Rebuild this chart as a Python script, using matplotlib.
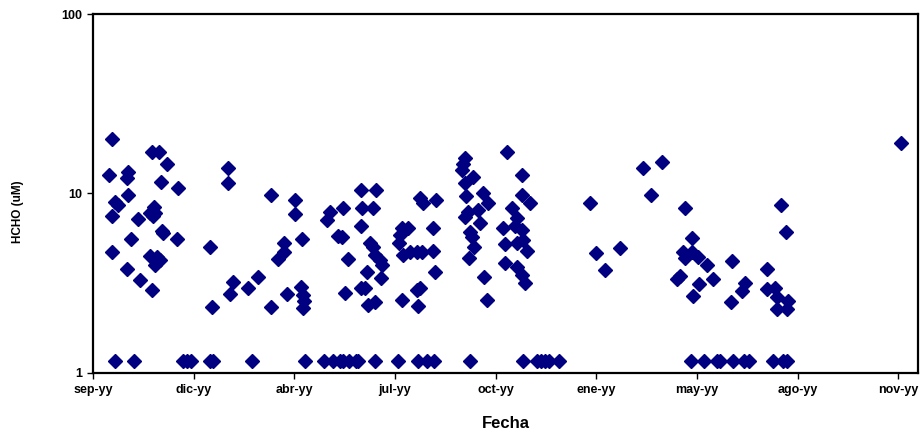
import matplotlib
matplotlib.use('Agg')
import matplotlib.pyplot as plt
from matplotlib.ticker import FixedLocator, NullLocator

plt.rcParams['font.family'] = ['Liberation Sans', 'DejaVu Sans']

# dias desde el primer tick del eje (sep)
fecha_dias = [
    18.4, 15.7, 34.7, 33.7, 57.7, 65.2, 72.5, 66.9, 83.9, 34.7,
    21.6, 24.9, 18.4, 44.6, 60.3, 56.1, 61.0, 59.3, 67.6, 69.1,
    82.3, 37.4, 19.0, 56.1, 62.6, 65.9, 61.0, 33.7, 46.2, 58.3,
    133.1, 133.1, 174.8, 198.7, 198.7, 115.1, 205.8, 187.8, 188.1, 182.2,
    162.6, 137.4, 134.7, 152.1, 191.1, 204.6, 206.8, 207.8, 206.8, 117.3,
    174.8,
    229.8, 233.1, 245.6, 263.3, 278.0, 264.9, 275.7, 263.3, 241.2, 245.2,
    251.1, 247.8, 272.4, 275.7, 277.3, 282.3, 283.9, 269.2, 283.0, 263.3,
    267.5, 270.8, 277.3, 321.6, 324.9, 337.3, 303.6, 310.1, 301.9, 301.2,
    305.2, 311.8, 318.4, 323.3, 334.7, 334.7, 336.4, 303.6, 321.6, 318.4,
    319.9,
    406.9, 365.9, 364.2, 362.6, 374.0, 365.9, 422.2, 366.8, 383.9, 388.8,
    421.6, 429.8, 411.8, 369.1, 365.9, 378.9, 416.7, 415.0, 421.6, 403.5,
    380.6, 370.8, 373.0, 423.2, 426.5, 416.7, 405.2, 375.0, 369.8, 405.2,
    416.7, 421.6, 424.9, 384.8, 387.8,
    488.8, 494.7, 503.6, 518.3,
    541.2, 559.9, 548.5, 582.2, 589.4, 580.6, 588.8, 595.3, 582.2, 603.6,
    628.8, 663.2, 577.3, 574.7, 610.1, 596.3, 641.2, 638.0, 590.4, 627.5,
    662.6, 670.7, 673.0, 683.8, 672.4, 682.2, 676.4, 681.3, 794.7,
    # valores en el limite de deteccion
    21.6, 40.3, 88.8, 92.2, 96.4, 115.1, 117.7, 156.1, 208.5, 227.2,
    236.3, 242.9, 245.6, 251.8, 258.4, 260.9, 277.3, 300.3, 319.9, 328.2,
    335.4, 370.8, 422.9, 436.7, 440.6, 444.6, 448.5, 458.3, 588.1, 600.9,
    613.7, 616.7, 629.5, 640.3, 645.2, 668.8, 678.7, 682.6,
]

hcho = [
    20.1, 12.7, 13.1, 12.2, 17.0, 17.0, 14.6, 11.6, 10.8, 9.8,
    9.0, 8.6, 7.5, 7.2, 8.4, 7.8, 7.8, 7.5, 6.2, 6.0,
    5.6, 5.6, 4.7, 4.5, 4.4, 4.25, 4.0, 3.8, 3.3, 2.9,
    13.8, 11.5, 9.8, 9.2, 7.65, 5.05, 5.55, 5.3, 4.73, 4.3,
    3.4, 3.2, 2.74, 2.96, 2.75, 3.0, 2.71, 2.51, 2.29, 2.32,
    2.32,
    7.1, 7.85, 8.27, 10.5, 10.5, 8.27, 8.27, 6.6, 5.8, 5.74,
    4.31, 2.77, 5.27, 5.05, 4.54, 4.25, 3.99, 3.63, 3.39, 2.96,
    2.96, 2.39, 2.49, 9.4, 8.82, 9.2, 6.39, 6.39, 5.87, 5.27,
    4.54, 4.73, 4.73, 4.73, 4.78, 6.39, 3.63, 2.55, 2.98, 2.89,
    2.36,
    17.0, 15.7, 14.6, 13.5, 12.4, 11.4, 12.7, 9.7, 10.0, 8.9,
    9.8, 8.9, 8.27, 7.9, 7.36, 8.1, 7.27, 6.59, 6.26, 6.39,
    6.82, 6.12, 5.7, 5.5, 4.8, 5.27, 5.23, 5.0, 4.35, 4.11,
    3.9, 3.51, 3.15, 3.43, 2.55,
    8.9, 4.67, 3.74, 4.95,
    13.8, 15.05, 9.8, 8.27, 5.62, 4.73, 4.73, 4.44, 4.35, 3.99,
    4.2, 3.78, 3.46, 3.32, 3.32, 3.11, 3.15, 2.87, 2.68, 2.49,
    2.92, 2.96, 2.66, 2.52, 2.27, 2.27, 8.63, 6.12, 19.1,
] + [1.16] * 38

tick_dias = [0, 99, 198, 297, 396, 495, 594, 693, 792]
tick_labels = ['sep-yy', 'dic-yy', 'abr-yy', 'jul-yy', 'oct-yy',
               'ene-yy', 'may-yy', 'ago-yy', 'nov-yy']

fig = plt.figure(figsize=(9.23, 4.36), dpi=100)
ax = fig.add_axes([0.1008, 0.1452, 0.8938, 0.822])

ax.plot(fecha_dias, hcho, linestyle='none', marker='D', markersize=7.3,
        color='#000080', markeredgecolor='#000080')

ax.set_yscale('log')
ax.set_ylim(1, 100)
ax.set_xlim(0, 811.4)

ax.yaxis.set_major_locator(FixedLocator([1, 10, 100]))
ax.yaxis.set_minor_locator(NullLocator())
ax.set_yticklabels(['1', '10', '100'])
ax.set_xticks(tick_dias)
ax.set_xticklabels(tick_labels)

for s in ax.spines.values():
    s.set_linewidth(1.6)
    s.set_color('black')

ax.tick_params(axis='both', direction='out', length=4, width=1,
               labelsize=9, pad=4)
for lbl in ax.get_xticklabels() + ax.get_yticklabels():
    lbl.set_fontweight('bold')

ax.set_xlabel('Fecha', fontsize=12, fontweight='bold')
ax.xaxis.set_label_coords(0.5, -0.121)
ax.set_ylabel('HCHO (uM)', fontsize=8.5, fontweight='bold')
ax.yaxis.set_label_coords(-0.0836, 0.45)

fig.savefig('out.png', dpi=100)
